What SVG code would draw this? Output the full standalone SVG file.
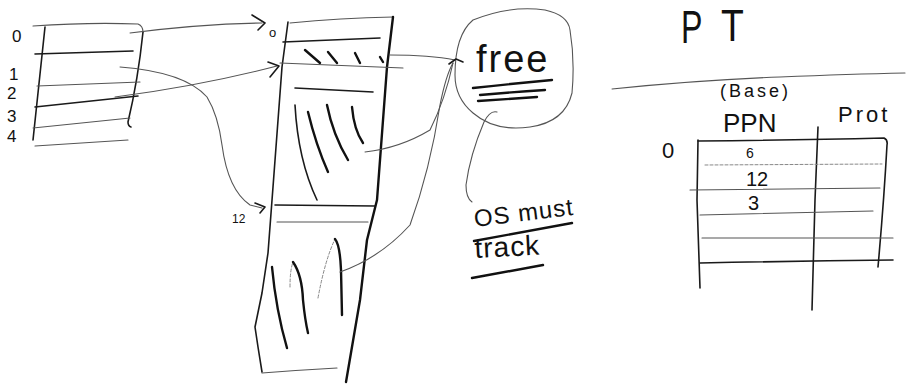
<svg xmlns="http://www.w3.org/2000/svg" width="906" height="392" viewBox="0 0 906 392">
<style>
  .ink{fill:none;stroke:#1a1a1a;stroke-width:1.6;stroke-linecap:round;stroke-linejoin:round}
  .thick{fill:none;stroke:#111;stroke-width:2.4;stroke-linecap:round;stroke-linejoin:round}
  .faint{fill:none;stroke:#555;stroke-width:1.1;stroke-linecap:round;stroke-linejoin:round}
  .pale{fill:none;stroke:#888;stroke-width:1;stroke-linecap:round;stroke-dasharray:3 2}
  .t{font-family:"Liberation Sans",Arial,sans-serif;fill:#111}
</style>
<rect width="906" height="392" fill="#fff"/>

<g id="left-table">
  <path class="faint" d="M33 26 Q90 22 138 24 Q143 26 143 32"/>
  <path class="ink" d="M45 27 L33 140"/>
  <path class="ink" d="M143 32 Q138 80 128 122 Q128 126 131 127"/>
  <path class="ink" d="M35 54 L133 51"/>
  <path class="faint" d="M37 86 L140 82"/>
  <path class="ink" d="M35 107 L138 96"/>
  <path class="faint" d="M33 128 L130 118"/>
  <path class="faint" d="M35 146 L128 140"/>
  <text class="t" x="12" y="42" font-size="17">0</text>
  <text class="t" x="9" y="80" font-size="17">1</text>
  <text class="t" x="7" y="99" font-size="17">2</text>
  <text class="t" x="7" y="122" font-size="17">3</text>
  <text class="t" x="7" y="142" font-size="17">4</text>
</g>

<g id="memory-column">
  <path class="faint" d="M290 23 Q340 18 393 17"/>
  <path class="ink" d="M288 22 L282 67 L273 187 L268 253 L262 293 L255 327 L258 347 L262 372"/>
  <path class="thick" d="M393 17 L387 67 L377 200 L367 240 L360 300 L346 382" stroke-width="2"/>
  <path class="faint" d="M262 373 Q300 370 337 368"/>
  <path class="ink" d="M283 42 L380 38"/>
  <path class="faint" d="M280 63 L403 68"/>
  <path class="ink" d="M295 88 L373 92"/>
  <path class="ink" d="M275 205 L375 206"/>
  <path class="faint" d="M277 222 L368 222"/>
  <path class="thick" d="M305 50 L320 63"/>
  <path class="thick" d="M328 52 L337 63"/>
  <path class="thick" d="M355 53 L360 63"/>
  <path class="thick" d="M380 57 L383 62"/>
  <path class="ink" d="M295 105 Q298 160 317 200"/>
  <path class="thick" d="M308 112 Q316 145 328 172"/>
  <path class="thick" d="M327 105 Q333 135 348 160"/>
  <path class="thick" d="M352 107 Q354 130 363 143"/>
  <path class="thick" d="M272 267 Q276 310 287 348"/>
  <path class="pale" d="M290 287 Q290 270 293 262"/>
  <path class="thick" d="M293 262 Q302 275 303 300 Q305 320 308 333"/>
  <path class="pale" d="M318 298 Q325 260 335 239"/>
  <path class="thick" d="M335 239 Q340 245 341 270 L342 315"/>
  <text class="t" x="269" y="37" font-size="13">o</text>
  <text class="t" x="232" y="223" font-size="12">12</text>
</g>

<g id="free-circle">
  <path class="faint" d="M473 20 Q510 5 545 10 Q568 15 570 30 Q575 60 572 93 Q565 122 530 127 Q495 132 473 113 Q455 98 455 75 Q455 35 473 20 Z"/>
  <text class="t" x="476" y="72" font-size="38" letter-spacing="2">free</text>
  <path class="thick" d="M473 88 Q510 84 552 80"/>
  <path class="thick" d="M480 95 Q512 92 545 90"/>
  <path class="thick" d="M478 101 Q508 99 537 97"/>
</g>

<g id="os-note">
  <text class="t" transform="translate(475 227) rotate(-7)" font-size="24" letter-spacing="1">OS must</text>
  <path class="thick" d="M474 241 L572 223" stroke-width="2"/>
  <text class="t" transform="translate(475 258) rotate(-3)" font-size="28" letter-spacing="1">track</text>
  <path class="thick" d="M472 278 L543 265" stroke-width="2"/>
</g>

<g id="page-table">
  <text class="t" transform="translate(681 43) scale(0.7 1)" font-size="46">P</text>
  <text class="t" transform="translate(721 41) scale(0.85 1)" font-size="44">T</text>
  <path class="faint" d="M612 89 Q700 80 780 77 Q850 74 905 73"/>
  <text class="t" x="720" y="97" font-size="18" letter-spacing="3">(Base)</text>
  <text class="t" x="723" y="132" font-size="26">PPN</text>
  <text class="t" x="838" y="122" font-size="22" letter-spacing="3">Prot</text>
  <text class="t" x="662" y="158" font-size="22">0</text>
  <path class="ink" d="M698 140 L697 200 L700 288"/>
  <path class="ink" d="M818 127 L815 200 L812 310" stroke-width="1.3"/>
  <path class="ink" d="M698 141 Q800 140 884 138 Q888 140 887 145 Q884 200 878 267"/>
  <path class="pale" d="M705 165 L882 164"/>
  <path class="faint" d="M690 190 L880 188"/>
  <path class="faint" d="M700 215 L873 211"/>
  <path class="faint" d="M702 238 L893 238"/>
  <path class="ink" d="M700 263 Q800 261 893 260"/>
  <text class="t" x="746" y="158" font-size="14">6</text>
  <text class="t" x="746" y="186" font-size="20">12</text>
  <text class="t" x="748" y="210" font-size="20">3</text>
</g>

<g id="connectors">
  <path class="faint" d="M130 33 Q200 24 262 23"/>
  <path class="ink" d="M252 15 L265 23 L258 30"/>
  <path class="faint" d="M120 67 Q185 72 207 97 Q218 115 222 145 Q228 190 250 205 L262 208"/>
  <path class="ink" d="M255 203 L265 207 L260 213"/>
  <path class="faint" d="M115 97 Q200 86 277 66"/>
  <path class="ink" d="M268 62 L279 66 L270 77"/>
  <path class="faint" d="M390 55 Q430 55 455 60"/>
  <path class="faint" d="M365 152 Q400 148 430 130 Q445 100 453 63"/>
  <path class="faint" d="M340 272 Q380 258 410 225 Q430 170 440 105 Q446 75 453 63"/>
  <path class="ink" d="M449 64 L456 59 L463 62"/>
  <path class="faint" d="M497 112 Q490 110 484 122 Q470 155 466 185 Q466 198 472 202"/>
</g>
</svg>
